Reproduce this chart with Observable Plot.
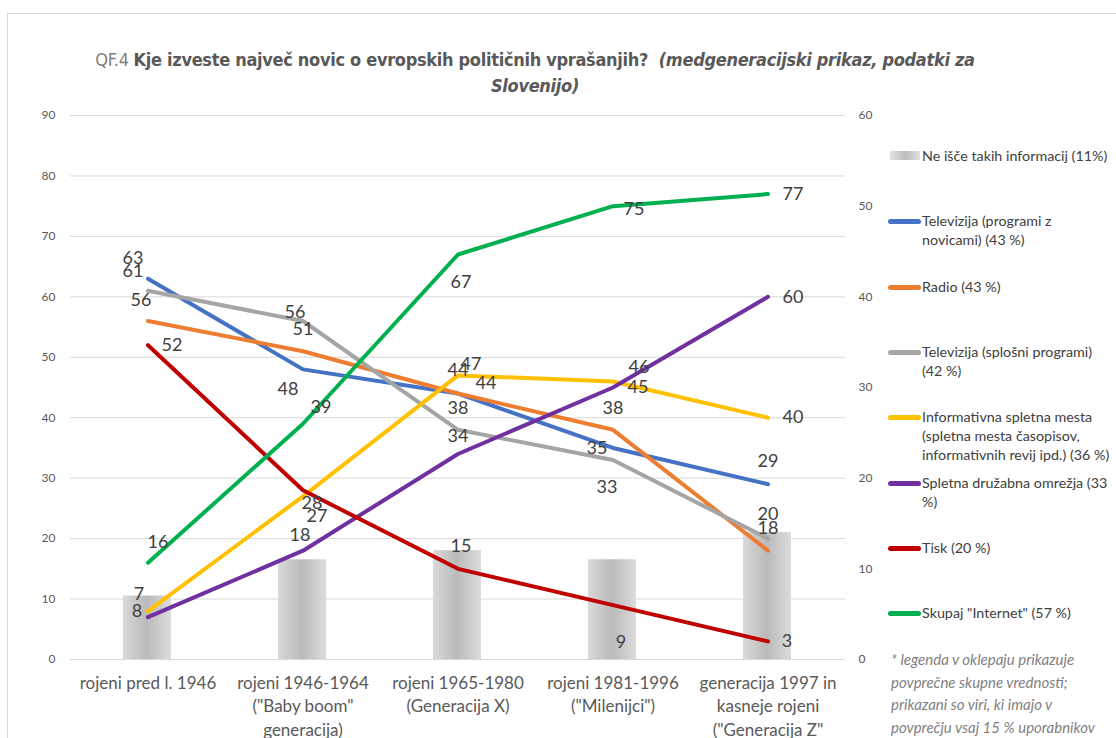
<!DOCTYPE html>
<html><head><meta charset="utf-8">
<script src="https://cdn.jsdelivr.net/npm/d3@7"></script>
<script src="https://cdn.jsdelivr.net/npm/@observablehq/plot@0.6"></script>
<style>
html,body{margin:0;padding:0;background:#fff;width:1116px;height:738px;overflow:hidden;font-family:Lato,"Open Sans",sans-serif;position:relative}
#frame{position:absolute;left:7px;top:13px;width:1300px;height:900px;border-left:1px solid #d9d9d9;border-top:1px solid #d9d9d9}
#chart{position:absolute;left:0;top:0}
#title{position:absolute;left:0;top:47px;width:1070px;text-align:center;font-family:"Liberation Sans Narrow","DejaVu Sans Condensed",sans-serif;font-size:18px;letter-spacing:-0.3px;line-height:26px;color:#595959;font-weight:bold}
#title .q{font-weight:normal;color:#7f7f7f}
#legend{position:absolute;left:0;top:0;width:1116px;height:738px;pointer-events:none}
.li{position:absolute;left:922px;font-size:14.3px;line-height:19px;color:#404040;white-space:pre}
.sw{position:absolute;left:888px;width:33px;height:5px;border-radius:3px}
.note{position:absolute;left:891px;top:648px;font-size:15px;line-height:22.6px;color:#7f7f7f;font-style:italic;white-space:pre}
</style></head>
<body>
<div id="frame"></div>
<div id="chart"></div>
<div id="title"><span class="q">QF.4 </span>Kje izveste največ novic o evropskih političnih vprašanjih?&nbsp; <i>(medgeneracijski prikaz, podatki za<br>Slovenijo)</i></div>
<div id="legend"></div>
<script>
// ---- data ----
const categories = [
  "rojeni pred l. 1946",
  "rojeni 1946-1964\n(\"Baby boom\"\ngeneracija)",
  "rojeni 1965-1980\n(Generacija X)",
  "rojeni 1981-1996\n(\"Milenijci\")",
  "generacija 1997 in\nkasneje rojeni\n(\"Generacija Z\"\n)"
];
const seriesNames = [
  "Televizija (programi z\nnovicami) (43 %)",
  "Radio (43 %)",
  "Televizija (splošni programi)\n(42 %)",
  "Informativna spletna mesta\n(spletna mesta časopisov,\ninformativnih revij ipd.) (36 %)",
  "Spletna družabna omrežja (33\n%)",
  "Tisk (20 %)",
  "Skupaj \"Internet\" (57 %)"
];
const barName = "Ne išče takih informacij (11%)";
const tvNews    = [63, 48, 44, 35, 29];
const radio     = [56, 51, 44, 38, 18];
const tvGeneral = [61, 56, 38, 33, 20];
const webNews   = [8, 27, 47, 46, 40];
const social    = [7, 18, 34, 45, 60];
const print     = [52, 28, 15, 9, 3];
const internet  = [16, 39, 67, 75, 77];
const noInfo    = [7, 11, 12, 11, 14];   // secondary axis (0-60)
const leftTicks = [0, 10, 20, 30, 40, 50, 60, 70, 80, 90];
const rightTicks = [0, 10, 20, 30, 40, 50, 60];
const footnote = "* legenda v oklepaju prikazuje\npovprečne skupne vrednosti;\nprikazani so viri, ki imajo v\npovprečju vsaj 15 % uporabnikov";

// ---- styling ----
const series = [tvNews, radio, tvGeneral, webNews, social, print, internet];
const colors = ["#4472C4", "#ED7D31", "#A5A5A5", "#FFC000", "#7030A0", "#C00000", "#00B050"];
const labelOffsets = [
  [[-15,-20],[-15,20],[0,-23],[-16,0],[0,-23]],
  [[-7,-21],[0,-22],[28,-10],[0,-22],[0,-22]],
  [[-15,-20],[-8,-9],[0,-22],[-6,27],[0,-24]],
  [[-11,0],[14,20],[13,-11],[26,-14],[25,0]],
  [[-9,-23],[-3,-15],[0,-18],[25,0],[25,0]],
  [[24,0],[9,13],[3,-23],[8,37],[19,0]],
  [[10,-21],[18,-17],[3,28],[21,3],[25,0]]
];
const ratio = 90 / 60; // secondary axis mapping

const barRows = categories.map((c, i) => ({cat: c, v: noInfo[i]}));
const marks = [
  Plot.gridY(leftTicks, {stroke: "#d9d9d9", strokeOpacity: 1, strokeWidth: 1}),
  Plot.barY(barRows, {x: "cat", y: d => d.v * ratio, fill: "url(#barGrad)", insetLeft: 53, insetRight: 54})
];
series.forEach((vals, s) => {
  const rows = categories.map((c, i) => ({cat: c, v: vals[i]}));
  marks.push(Plot.line(rows, {x: "cat", y: "v", stroke: colors[s], strokeWidth: 4, strokeLinecap: "round", strokeLinejoin: "round"}));
});
series.forEach((vals, s) => {
  vals.forEach((v, i) => {
    const [dx, dy] = labelOffsets[s][i];
    marks.push(Plot.text([{cat: categories[i], v}], {x: "cat", y: "v", text: d => String(d.v), dx, dy, fontSize: 18, fill: "#404040"}));
  });
});
marks.push(
  Plot.axisY(leftTicks, {anchor: "left", tickSize: 0, tickPadding: 15, label: null, fontSize: 12, fill: "#595959"}),
  Plot.axisY(rightTicks.map(t => t * ratio), {anchor: "right", tickSize: 0, tickPadding: 13, label: null, fontSize: 12, fill: "#595959", tickFormat: d => String(Math.round(d / ratio))}),
  Plot.axisX({tickSize: 0, tickPadding: 12, label: null, fontSize: 17, fill: "#595959", lineHeight: 1.41})
);

const chart = Plot.plot({
  width: 1116, height: 738,
  marginTop: 115, marginBottom: 79, marginLeft: 70, marginRight: 271,
  style: {fontFamily: "Lato, 'Open Sans', sans-serif", background: "transparent"},
  x: {type: "band", domain: categories, padding: 0},
  y: {domain: [0, 90]},
  marks
});
const defs = d3.select(chart).insert("defs", ":first-child");
const grad = defs.append("linearGradient").attr("id", "barGrad").attr("x1", "0").attr("x2", "1").attr("y1", "0").attr("y2", "0");
[["0%", "#d9d9d9"], ["50%", "#bababa"], ["100%", "#dcdcdc"]].forEach(([o, c]) => grad.append("stop").attr("offset", o).attr("stop-color", c));
document.getElementById("chart").appendChild(chart);

// ---- legend ----
const legend = document.getElementById("legend");
const items = [{name: barName, bar: true}].concat(seriesNames.map((n, i) => ({name: n, color: colors[i]})));
items.forEach((it, i) => {
  const cy = 156 + i * 65.3;
  const sw = document.createElement("div");
  sw.className = "sw";
  if (it.bar) {
    sw.style.cssText = `left:890px;width:30px;height:9px;border-radius:0;top:${cy - 5}px;background:linear-gradient(to right,#e2e2e2,#bdbdbd 50%,#e2e2e2)`;
  } else {
    sw.style.top = (cy - 2) + "px";
    sw.style.background = it.color;
  }
  legend.appendChild(sw);
  const t = document.createElement("div");
  t.className = "li";
  t.style.top = (cy - 10) + "px";
  t.textContent = it.name;
  legend.appendChild(t);
});
const note = document.createElement("div");
note.className = "note";
note.textContent = footnote;
legend.appendChild(note);
</script>
</body></html>
